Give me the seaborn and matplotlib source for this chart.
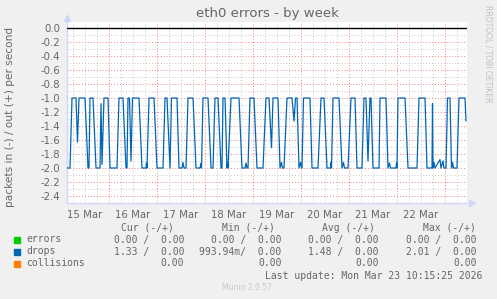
import matplotlib
matplotlib.use("Agg")
import numpy as np
import pandas as pd
import seaborn as sns
import matplotlib.pyplot as plt

# ---------------- data (hours since 15 Mar 00:00) ----------------
hours = [3, 4.5, 5.5, 7.5, 8.25, 9, 12, 13.5, 14, 14.5, 16, 17.5, 19.5, 20, 20.5, 21.5,
         23.5, 24.5, 28, 29, 31, 32.5, 33, 33.5, 34.25, 35, 35.75, 39, 40.5, 42.5, 42.75,
         43, 44, 46.5, 48, 51, 52, 53, 54.5, 55.25, 58, 59, 60.5, 61, 61.5, 62.5, 63.5,
         66, 67.5, 69.5, 70, 70.25, 71, 73.5, 75, 76, 77, 78.5, 80, 80.5, 81, 82, 83,
         83.25, 83.5, 85, 89, 90.5, 92, 92.5, 93, 93.5, 94.5, 96.5, 98, 101, 102.5, 104,
         105.25, 106, 108.5, 109.5, 110.25, 110.75, 111.5, 113, 115.5, 116.5, 117.25, 118,
         119, 119.75, 120.25, 120.5, 121.25, 124.5, 125.5, 128.5, 130, 131.5, 133, 134.75,
         135, 135.25, 136, 139, 140.5, 141.25, 141.75, 143.5, 145, 147, 148, 150.5, 151.5,
         152.5, 153.5, 154.5, 155, 156, 159, 159.5, 162.5, 163.5, 164.25, 164.75, 167.5,
         167.75, 168, 168.5, 172, 173.5, 178, 179, 182, 183, 185.5, 185.75, 186, 186.5,
         187, 189.5, 190, 191, 191.5, 192.5, 193.25, 194.5, 195.25, 195.75, 196.25, 198,
         199, 202, 202.5]
drops_in = [2.0, 2.0, 1.0, 1.0, 1.63, 1.0, 1.0, 2.0, 2.0, 1.0, 1.0, 2.0, 2.0, 1.08, 1.95, 1.0,
            1.0, 2.0, 2.0, 1.0, 1.0, 2.0, 2.0, 1.0, 1.0, 1.9, 1.0, 1.0, 2.0, 2.0, 1.93,
            2.0, 1.0, 1.0, 2.0, 2.0, 1.0, 1.0, 2.0, 1.0, 1.0, 2.0, 2.0, 1.92, 2.0, 2.0, 1.0,
            1.0, 2.0, 2.0, 1.93, 2.0, 1.0, 1.0, 2.0, 2.0, 1.0, 1.0, 2.0, 2.0, 1.0, 1.0, 2.0,
            1.93, 2.0, 1.0, 1.0, 2.0, 2.0, 1.93, 2.0, 2.0, 1.0, 1.0, 2.0, 2.0, 1.0, 1.0,
            1.71, 1.0, 1.0, 2.0, 1.92, 2.0, 2.0, 1.0, 1.0, 1.33, 1.0, 1.0,
            2.0, 1.92, 2.0, 2.0, 1.0, 1.0, 2.0, 2.0, 1.0, 1.0, 2.0, 2.0,
            1.92, 2.0, 1.0, 1.0, 2.0, 1.92, 2.0, 2.0, 1.0, 1.0, 2.0, 2.0, 1.0,
            1.0, 1.9, 1.0, 1.0, 2.0, 2.0, 1.0, 1.0, 2.0, 1.93, 2.0, 2.0,
            1.93, 2.0, 1.0, 1.0, 2.0, 2.0, 1.0, 1.0, 2.0, 2.0, 1.08, 2.0, 1.92,
            2.0, 1.88, 2.0, 1.9, 2.0, 2.0, 1.0, 1.0, 2.0, 1.92, 2.0, 2.0,
            1.0, 1.0, 1.33]
day_labels = ["15 Mar", "16 Mar", "17 Mar", "18 Mar", "19 Mar", "20 Mar", "21 Mar", "22 Mar"]
label_hours = [12, 36, 60, 84, 108, 132, 156, 180]
y_ticks = [0.0, -0.2, -0.4, -0.6, -0.8, -1.0, -1.2, -1.4, -1.6, -1.8, -2.0, -2.2, -2.4]

series_names = ["errors", "drops", "collisions"]
series_colors = ["#00CC00", "#0066B3", "#FF8000"]
cur_vals = ["0.00 /  0.00", "1.33 /  0.00", "0.00"]
min_vals = ["0.00 /  0.00", "993.94m/  0.00", "0.00"]
avg_vals = ["0.00 /  0.00", "1.48 /  0.00", "0.00"]
max_vals = ["0.00 /  0.00", "2.01 /  0.00", "0.00"]

# ---------------- figure ----------------
sns.set_style("white")
plt.rcParams["font.family"] = ["DejaVu Sans"]
FONT = "#666666"
W, H = 497, 299

fig = plt.figure(figsize=(W / 100, H / 100), dpi=100, facecolor="#F0F0F0")
ax = fig.add_axes([67 / W, (H - 203) / H, 400 / W, (203 - 22) / H])
ax.set_facecolor("white")
ymin, ymax = -2.5, 6 / 70
xmin, xmax = 3, 203
ax.set_xlim(xmin, xmax)
ax.set_ylim(ymin, ymax)

# grid
for h in np.arange(6, 204, 6):
    if h % 24 == 0:
        ax.axvline(h, color="#F08080", lw=0.7, ls=(0, (1, 2)), zorder=1)
    else:
        ax.axvline(h, color="#C8C8C8", lw=0.7, ls=(0, (1, 2)), zorder=1)
for k in range(0, 26):
    yv = -k / 10
    if k % 2 == 0:
        ax.axhline(yv, color="#F08080", lw=0.7, ls=(0, (1, 2)), zorder=1)
    else:
        ax.axhline(yv, color="#C8C8C8", lw=0.7, ls=(0, (1, 2)), zorder=1)

df = pd.DataFrame({"hour": hours, "value": -np.array(drops_in)})
sns.lineplot(data=df, x="hour", y="value", color="#0066B3", lw=0.9, ax=ax,
             estimator=None, zorder=3)
ax.axhline(0, color="black", lw=1.0, zorder=4)

ax.set_xlabel("")
ax.set_ylabel("")
for s in ["top", "right"]:
    ax.spines[s].set_visible(False)
for s in ["left", "bottom"]:
    ax.spines[s].set_color("#CFD6F8")
    ax.spines[s].set_linewidth(1.0)

ax.plot([1.012], [0], marker=">", ms=4, color="#CFD6F8", transform=ax.transAxes, clip_on=False)
ax.plot([0], [1.02], marker="^", ms=4, color="#CFD6F8", transform=ax.transAxes, clip_on=False)

ax.set_xticks(label_hours)
ax.set_xticklabels(day_labels)
ax.set_yticks(y_ticks)
ax.set_yticklabels([f"{v:.1f}" for v in y_ticks])
ax.tick_params(axis="both", length=0, labelsize=7.3, colors=FONT)
ax.tick_params(axis="x", pad=5)
ax.tick_params(axis="y", pad=5)

# texts
fig.text(267 / W, 1 - 14 / H, "eth0 errors - by week", ha="center", va="center",
         fontsize=9.5, color=FONT)
fig.text(10 / W, 1 - 117 / H, "packets in (-) / out (+) per second", rotation=90,
         ha="center", va="center", fontsize=7.6, color=FONT)
fig.text(488 / W, 1 - 5 / H, "RRDTOOL / TOBI OETIKER", rotation=270, ha="center",
         va="top", fontsize=5.5, color="#C0C0C0")
fig.text(247.5 / W, 1 - 288 / H, "Munin 2.0.57", ha="center", va="center",
         fontsize=5.5, color="#C8C8C8")

mono = "DejaVu Sans Mono"
hy = 227.7
for txt, xr in zip(["Cur (-/+)", "Min (-/+)", "Avg (-/+)", "Max (-/+)"], [174, 275, 375, 476]):
    fig.text(xr / W, 1 - hy / H, txt, ha="right", va="center", fontsize=7,
             family=mono, color=FONT)
rows_y = [239.5, 251.5, 263.5]
for i, name in enumerate(series_names):
    yy = rows_y[i]
    fig.patches.append(plt.Rectangle((14 / W, 1 - (yy + 3) / H), 6 / W, 6 / H,
                                     transform=fig.transFigure, color=series_colors[i],
                                     figure=fig))
    fig.text(26 / W, 1 - yy / H, name, ha="left", va="center", fontsize=7,
             family=mono, color=FONT)
    for vals, xr in zip([cur_vals, min_vals, avg_vals, max_vals], [184, 281.7, 378.7, 477]):
        fig.text(xr / W, 1 - yy / H, vals[i], ha="right", va="center", fontsize=7,
                 family=mono, color=FONT)
fig.text(482.7 / W, 1 - 275.7 / H, "Last update: Mon Mar 23 10:15:25 2026", ha="right",
         va="center", fontsize=7, family=mono, color=FONT)

fig.savefig("out.png", dpi=100, facecolor="#F0F0F0")
